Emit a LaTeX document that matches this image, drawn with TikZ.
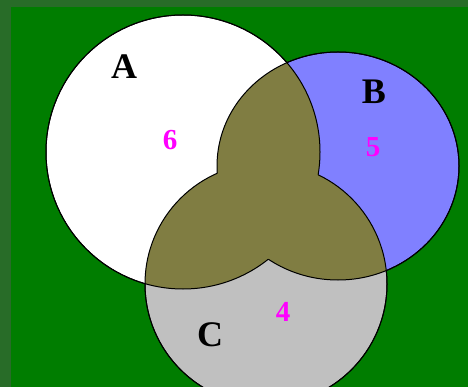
\documentclass[tikz,border=0pt]{standalone}
\usepackage{fontspec}
\setmainfont{Liberation Serif}
\definecolor{outergreen}{RGB}{40,108,40}
\definecolor{innergreen}{RGB}{0,125,0}
\definecolor{bblue}{RGB}{128,128,255}
\definecolor{cgray}{RGB}{192,192,192}
\definecolor{olive2}{RGB}{128,125,66}
\definecolor{mag}{RGB}{255,0,255}
\tikzset{
  setname/.style={font=\fontsize{36}{36}\selectfont\bfseries, text=black, inner sep=0pt},
  countlbl/.style={font=\fontsize{29}{29}\selectfont\bfseries, text=mag, inner sep=0pt},
  outline/.style={draw=black, line width=1pt},
}
\newcommand{\shapeA}{(183,152) circle [radius=137pt]}
\newcommand{\shapeB}{(338,166) ellipse [x radius=121pt, y radius=114pt]}
\newcommand{\shapeC}{(266,284) circle [radius=121pt]}
\newcommand{\bigbox}{(-20,-20) rectangle (490,410)}
\newcommand{\outside}[1]{\pgfseteorule\clip \bigbox #1;}
\begin{document}
\begin{tikzpicture}[x=1pt,y=-1pt]
\useasboundingbox (0,0) rectangle (468,387);
\fill[outergreen] (0,0) rectangle (468,387);
\fill[innergreen] (11,7) rectangle (468,387);
\begin{scope}
\clip (11,7) rectangle (468,387);
% base fills
\fill[white] \shapeA;
\fill[bblue] \shapeB;
\fill[cgray] \shapeC;
% pairwise intersections
\begin{scope}\clip \shapeA; \fill[olive2] \shapeB; \end{scope}
\begin{scope}\clip \shapeA; \fill[olive2] \shapeC; \end{scope}
\begin{scope}\clip \shapeB; \fill[olive2] \shapeC; \end{scope}
% outlines, hidden inside the intersection of the other two
\begin{scope}[even odd rule]\outside{\shapeB} \draw[outline] \shapeA; \end{scope}
\begin{scope}[even odd rule]\outside{\shapeC} \draw[outline] \shapeA; \end{scope}
\begin{scope}[even odd rule]\outside{\shapeA} \draw[outline] \shapeB; \end{scope}
\begin{scope}[even odd rule]\outside{\shapeC} \draw[outline] \shapeB; \end{scope}
\begin{scope}[even odd rule]\outside{\shapeA} \draw[outline] \shapeC; \end{scope}
\begin{scope}[even odd rule]\outside{\shapeB} \draw[outline] \shapeC; \end{scope}
\end{scope}
% labels
\node[setname] (la) at (124,67) {A};
\node[setname] (lb) at (374,92) {B};
\node[setname] (lc) at (210,335) {C};
\node[countlbl] (n6) at (170,140) {6};
\node[countlbl] (n5) at (373,147) {5};
\node[countlbl] (n4) at (283,312) {4};
\end{tikzpicture}
\end{document}
